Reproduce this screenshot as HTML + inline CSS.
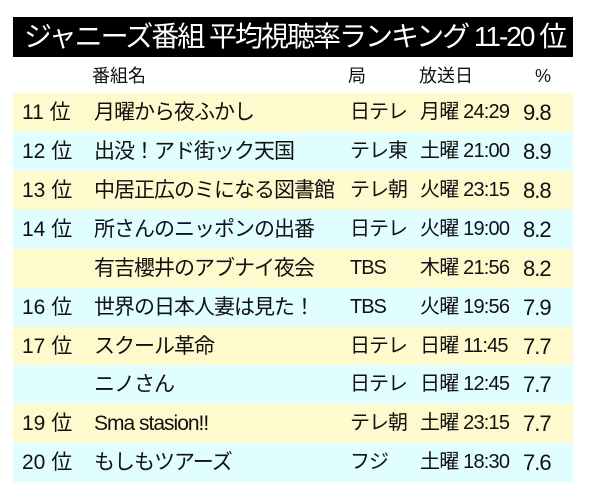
<!DOCTYPE html>
<html>
<head>
<meta charset="utf-8">
<style>
html,body{margin:0;padding:0;background:#fff;}
body{width:600px;height:500px;position:relative;overflow:hidden;font-family:"Liberation Sans","Noto Sans CJK JP",sans-serif;color:#111;}
.bar{position:absolute;left:13px;top:17px;width:560px;height:40px;background:#000;}
.title{position:absolute;left:24px;top:17px;height:40px;line-height:40px;font-size:28px;color:#fff;letter-spacing:-2px;white-space:nowrap;}
.hdr{position:absolute;top:63px;height:26px;line-height:26px;font-size:18px;white-space:nowrap;}
.row{position:absolute;left:13px;width:560px;height:39px;}
.y{background:#fffacd;}
.c{background:#e0fdff;}
.t{position:absolute;top:0;height:39px;line-height:39px;white-space:nowrap;}
.rk{left:9px;font-size:21px;}
.nm{left:81px;font-size:21px;letter-spacing:-1px;}
.st{left:337px;font-size:20px;letter-spacing:-1px;}
.dt{left:407px;font-size:20px;letter-spacing:-0.8px;}
.pc{left:510px;font-size:22px;letter-spacing:-1px;}
</style>
</head>
<body>
<div class="bar"></div>
<div class="title">ジャニーズ番組 平均視聴率ランキング 11-20 位</div>

<div class="hdr" style="left:92px;">番組名</div>
<div class="hdr" style="left:348px;">局</div>
<div class="hdr" style="left:419px;">放送日</div>
<div class="hdr" style="left:535px;">%</div>

<div class="row y" style="top:93px;"><span class="t rk">11 位</span><span class="t nm">月曜から夜ふかし</span><span class="t st">日テレ</span><span class="t dt">月曜 24:29</span><span class="t pc">9.8</span></div>
<div class="row c" style="top:132px;"><span class="t rk">12 位</span><span class="t nm">出没！アド街ック天国</span><span class="t st">テレ東</span><span class="t dt">土曜 21:00</span><span class="t pc">8.9</span></div>
<div class="row y" style="top:171px;"><span class="t rk">13 位</span><span class="t nm">中居正広のミになる図書館</span><span class="t st">テレ朝</span><span class="t dt">火曜 23:15</span><span class="t pc">8.8</span></div>
<div class="row c" style="top:210px;"><span class="t rk">14 位</span><span class="t nm">所さんのニッポンの出番</span><span class="t st">日テレ</span><span class="t dt">火曜 19:00</span><span class="t pc">8.2</span></div>
<div class="row y" style="top:249px;"><span class="t nm">有吉櫻井のアブナイ夜会</span><span class="t st">TBS</span><span class="t dt">木曜 21:56</span><span class="t pc">8.2</span></div>
<div class="row c" style="top:288px;"><span class="t rk">16 位</span><span class="t nm">世界の日本人妻は見た！</span><span class="t st">TBS</span><span class="t dt">火曜 19:56</span><span class="t pc">7.9</span></div>
<div class="row y" style="top:327px;"><span class="t rk">17 位</span><span class="t nm">スクール革命</span><span class="t st">日テレ</span><span class="t dt">日曜 11:45</span><span class="t pc">7.7</span></div>
<div class="row c" style="top:365px;"><span class="t nm">ニノさん</span><span class="t st">日テレ</span><span class="t dt">日曜 12:45</span><span class="t pc">7.7</span></div>
<div class="row y" style="top:404px;"><span class="t rk">19 位</span><span class="t nm">Sma stasion!!</span><span class="t st">テレ朝</span><span class="t dt">土曜 23:15</span><span class="t pc">7.7</span></div>
<div class="row c" style="top:443px;"><span class="t rk">20 位</span><span class="t nm">もしもツアーズ</span><span class="t st">フジ</span><span class="t dt">土曜 18:30</span><span class="t pc">7.6</span></div>
</body>
</html>
